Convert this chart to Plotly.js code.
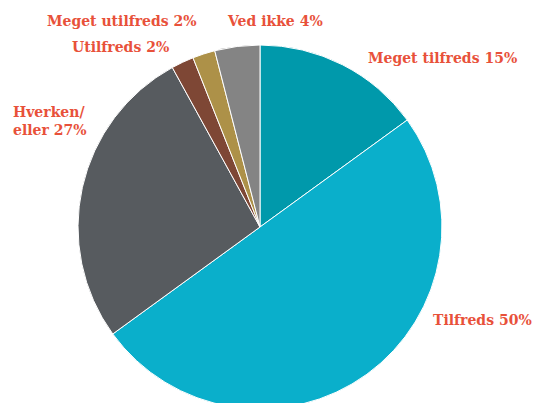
<!DOCTYPE html>
<html><head><meta charset="utf-8">
<script src="https://cdn.plot.ly/plotly-3.0.1.min.js"></script>
<style>html,body{margin:0;padding:0;overflow:hidden;background:#fff}</style>
</head><body><div id="chart" style="width:533px;height:450px"></div>
<script>
const categories = ["Meget tilfreds", "Tilfreds", "Hverken/eller", "Utilfreds", "Meget utilfreds", "Ved ikke"];
const values = [15, 50, 27, 2, 2, 4];
const labelTexts = ["<b>Meget tilfreds 15%</b>", "<b>Tilfreds 50%</b>", "<b>Hverken/</b><br><b>eller 27%</b>", "<b>Utilfreds 2%</b>", "<b>Meget utilfreds 2%</b>", "<b>Ved ikke 4%</b>"];
const colors = ["#0099ab", "#0aafcb", "#575b5f", "#7e4735", "#ad9148", "#848484"];

const W = 533, H = 450;
// label anchor positions in pixels (left, middle)
const labelPos = [[366, 58], [431, 320], [11, 121], [70, 47], [45, 21], [225, 21]];

const annotations = labelTexts.map((t, i) => ({
  text: t, xref: 'paper', yref: 'paper',
  x: labelPos[i][0] / W, y: 1 - labelPos[i][1] / H,
  xanchor: 'left', yanchor: 'middle', align: 'left', showarrow: false,
  font: {family: 'DejaVu Serif', size: 14, color: '#e8513a'}
}));

const cx = 260, cy = 227, r = 182;
Plotly.newPlot('chart', [{
  type: 'pie', labels: categories, values: values, sort: false,
  direction: 'clockwise', rotation: 0, textinfo: 'none', hoverinfo: 'label+percent',
  marker: {colors: colors, line: {color: '#ffffff', width: 1}},
  domain: {x: [(cx - r) / W, (cx + r) / W], y: [(H - cy - r) / H, (H - cy + r) / H]},
  showlegend: false
}], {
  width: W, height: H, margin: {l: 0, r: 0, t: 0, b: 0},
  paper_bgcolor: '#ffffff', showlegend: false, annotations: annotations
}, {displayModeBar: false, staticPlot: true});
</script></body></html>
